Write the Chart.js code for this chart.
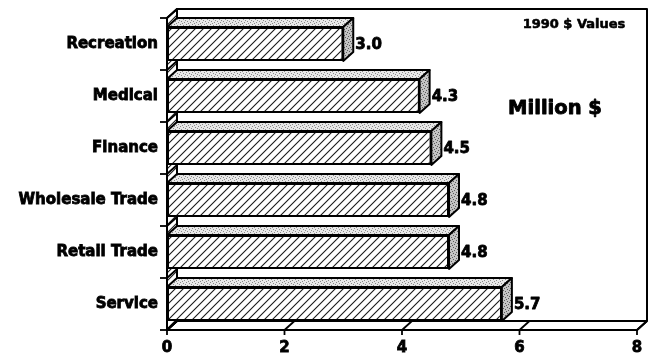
<!DOCTYPE html>
<html>
<head>
<meta charset="utf-8">
<script src="https://cdn.jsdelivr.net/npm/chart.js@4.4.1/dist/chart.umd.min.js"></script>
<style>
  html, body { margin: 0; padding: 0; background: #fff; }
  #wrap { width: 652px; height: 357px; }
</style>
</head>
<body>
<div id="wrap"><canvas id="c"></canvas></div>
<script>
// Sector output, 1990 dollars (millions)
const categories = ['Recreation', 'Medical', 'Finance', 'Wholesale Trade', 'Retail Trade', 'Service'];
const values = [3.0, 4.3, 4.5, 4.8, 4.8, 5.7];
const xTicks = [0, 2, 4, 6, 8];
const noteText = '1990 $ Values';
const unitText = 'Million $';

const DX = 10, DY = 9;            // 3D depth offset
const FONT = '"DejaVu Sans", "Liberation Sans", sans-serif';

const canvas = document.getElementById('c');
const ctx0 = canvas.getContext('2d');

function hatchPattern() {
  const s = 8, c = document.createElement('canvas');
  c.width = s; c.height = s;
  const g = c.getContext('2d');
  g.fillStyle = '#fff'; g.fillRect(0, 0, s, s);
  g.strokeStyle = '#1a1a1a'; g.lineWidth = 1.1;
  g.beginPath();
  g.moveTo(0, s); g.lineTo(s, 0);
  g.moveTo(-1, 1); g.lineTo(1, -1);
  g.moveTo(s - 1, s + 1); g.lineTo(s + 1, s - 1);
  g.stroke();
  return ctx0.createPattern(c, 'repeat');
}

function stipple(base, dot) {
  const s = 6, c = document.createElement('canvas');
  c.width = s; c.height = s;
  const g = c.getContext('2d');
  g.fillStyle = base; g.fillRect(0, 0, s, s);
  g.fillStyle = dot;
  [[0, 0], [3, 1], [1, 3], [4, 4], [2, 5], [5, 2]].forEach(([a, b]) => g.fillRect(a, b, 1, 1));
  return ctx0.createPattern(c, 'repeat');
}

const HATCH = hatchPattern();
const TOP_FILL = stipple('#e8e8e8', '#8a8a8a');
const SIDE_FILL = stipple('#c4c4c4', '#5a5a5a');

function poly(ctx, pts, fill) {
  ctx.beginPath();
  ctx.moveTo(pts[0][0], pts[0][1]);
  for (let i = 1; i < pts.length; i++) ctx.lineTo(pts[i][0], pts[i][1]);
  ctx.closePath();
  if (fill) { ctx.fillStyle = fill; ctx.fill(); }
  ctx.stroke();
}
function seg(ctx, x1, y1, x2, y2) {
  ctx.beginPath(); ctx.moveTo(x1, y1); ctx.lineTo(x2, y2); ctx.stroke();
}
function heavyText(ctx, text, x, y) {
  ctx.fillText(text, x, y);
  ctx.strokeText(text, x, y);
}

// Walls, floor, axis ticks, bar depth faces and value labels
const box3d = {
  id: 'box3d',
  beforeDatasetsDraw(chart) {
    const { ctx, chartArea: a, scales: { x } } = chart;
    const L = a.left, R = a.right, T = a.top, B = a.bottom;
    ctx.save();
    ctx.strokeStyle = '#000';
    ctx.lineWidth = 2;
    ctx.lineJoin = 'round';
    // floor
    poly(ctx, [[L, B], [L + DX, B - DY], [R + DX, B - DY], [R, B]], '#fff');
    // back wall outline
    ctx.beginPath();
    ctx.moveTo(L + DX, B - DY); ctx.lineTo(L + DX, T - DY);
    ctx.lineTo(R + DX, T - DY); ctx.lineTo(R + DX, B - DY);
    ctx.stroke();
    // left wall
    poly(ctx, [[L, B], [L, T], [L + DX, T - DY], [L + DX, B - DY]], HATCH);
    // value-axis ticks on the floor
    ctx.lineWidth = 1.8;
    x.ticks.forEach((t, i) => {
      const px = x.getPixelForTick(i);
      seg(ctx, px, B, px + DX, B - DY);
      seg(ctx, px, B, px, B + 5);
    });
    // category boundaries on the left wall
    const n = categories.length;
    for (let i = 0; i <= n; i++) {
      const py = T + (B - T) * i / n;
      seg(ctx, L - 7, py, L, py);
      seg(ctx, L, py, L + DX, py - DY);
    }
    ctx.restore();
  },
  afterDatasetsDraw(chart) {
    const { ctx } = chart;
    const meta = chart.getDatasetMeta(0);
    ctx.save();
    ctx.strokeStyle = '#000';
    ctx.lineWidth = 2;
    ctx.lineJoin = 'round';
    meta.data.forEach((bar, i) => {
      const p = bar.getProps(['x', 'y', 'base', 'height'], true);
      const top = p.y - p.height / 2, bot = p.y + p.height / 2;
      poly(ctx, [[p.base, top], [p.base + DX, top - DY], [p.x + DX, top - DY], [p.x, top]], TOP_FILL);
      poly(ctx, [[p.x, top], [p.x + DX, top - DY], [p.x + DX, bot - DY], [p.x, bot]], SIDE_FILL);
    });
    // value labels
    ctx.fillStyle = '#000';
    ctx.lineWidth = 0.8;
    ctx.font = 'bold 15px ' + FONT;
    ctx.textAlign = 'left';
    ctx.textBaseline = 'middle';
    meta.data.forEach((bar, i) => {
      const p = bar.getProps(['x', 'y'], true);
      heavyText(ctx, values[i].toFixed(1), p.x + DX + 2, p.y + 1);
    });
    // notes inside the plot
    ctx.textAlign = 'center';
    ctx.lineWidth = 0.6;
    ctx.font = 'bold 13px ' + FONT;
    heavyText(ctx, noteText, 574, 25);
    ctx.lineWidth = 0.9;
    ctx.font = 'bold 19.5px ' + FONT;
    heavyText(ctx, unitText, 555, 109);
    ctx.restore();
  }
};

const tickFont = { family: FONT, size: 15, weight: 'bold' };

new Chart(canvas, {
  type: 'bar',
  data: {
    labels: categories,
    datasets: [{
      data: values,
      backgroundColor: HATCH,
      borderColor: '#000',
      borderWidth: 2,
      borderSkipped: false,
      categoryPercentage: 1.0,
      barPercentage: 0.65
    }]
  },
  options: {
    indexAxis: 'y',
    responsive: true,
    maintainAspectRatio: false,
    animation: false,
    devicePixelRatio: 1,
    layout: { padding: { left: 0, top: 14, right: 15, bottom: 0 } },
    plugins: { legend: { display: false }, tooltip: { enabled: false } },
    scales: {
      x: {
        min: 0, max: 8,
        afterBuildTicks(scale) { scale.ticks = xTicks.map(v => ({ value: v })); },
        afterFit(scale) { scale.height = 27; },
        grid: { display: false, drawTicks: false },
        border: { display: false },
        ticks: { color: '#000', padding: 9, font: tickFont, textStrokeColor: '#000', textStrokeWidth: 0.8 }
      },
      y: {
        afterFit(scale) { scale.width = 167; },
        grid: { display: false, drawTicks: false },
        border: { display: false },
        ticks: { color: '#000', padding: 9, font: tickFont, textStrokeColor: '#000', textStrokeWidth: 0.8 }
      }
    }
  },
  plugins: [box3d]
});
</script>
</body>
</html>
